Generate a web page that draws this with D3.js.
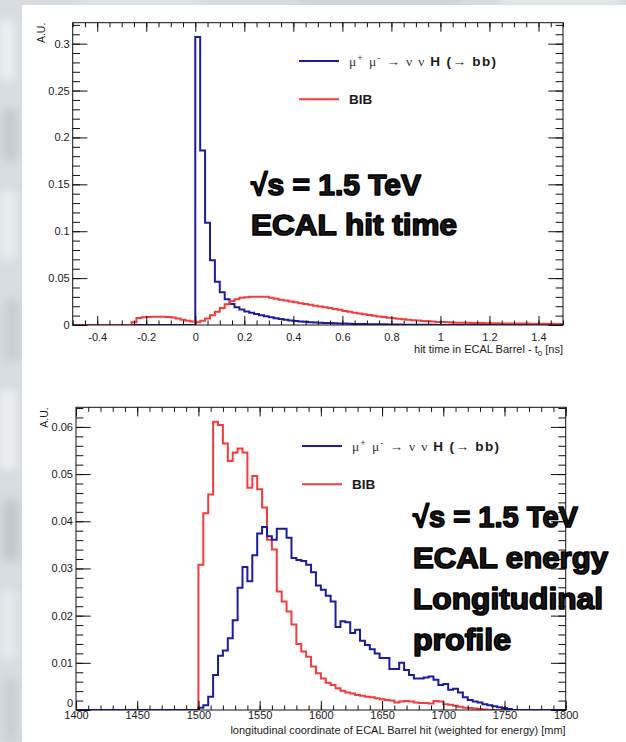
<!DOCTYPE html>
<html>
<head>
<meta charset="utf-8">
<script src="https://d3js.org/d3.v7.min.js"></script>
<style>
  body { margin: 0; background: #fff; }
  svg { display: block; }
  text { font-family: "Liberation Sans", Arial, Helvetica, sans-serif; fill: #1a1a1a; }
</style>
</head>
<body>
<script>
// ---- hit time in ECAL barrel (bins of 0.02 ns) ----
var timeBinWidth = 0.02;
var timeSignalStart = 0.0;
var timeSignal = [0.307, 0.186, 0.109, 0.069, 0.046, 0.035, 0.0275, 0.0225, 0.019, 0.0165,
  0.0145, 0.013, 0.0117, 0.0104, 0.0092, 0.0082, 0.0072, 0.0063, 0.0056, 0.0049,
  0.0043, 0.0038, 0.0034, 0.003, 0.0027, 0.0024, 0.0022, 0.002, 0.0018, 0.0016,
  0.0015, 0.0013, 0.0012, 0.0011, 0.001, 0.0009, 0.0008, 0.0007, 0.0007, 0.0006,
  0.0005, 0.0005, 0.0004, 0.0004, 0.0003, 0.0003, 0.0002, 0.0002, 0.0002, 0.0001, 0.0001];
var timeBibStart = -0.26;
var timeBib = [0.003, 0.0075, 0.0083, 0.0086, 0.0088, 0.0088, 0.0087, 0.0085, 0.0079, 0.0068, 0.0057, 0.0046, 0.0036,
  0.003, 0.0045, 0.007, 0.0105, 0.014, 0.018, 0.022, 0.0255, 0.0275, 0.029,
  0.0296, 0.030, 0.0302, 0.0302, 0.030, 0.029, 0.028, 0.027, 0.026, 0.025,
  0.0242, 0.0233, 0.0224, 0.0215, 0.0206, 0.0197, 0.0189, 0.018, 0.0171, 0.0162,
  0.015, 0.014, 0.0131, 0.0122, 0.0114, 0.0106, 0.0098, 0.0091, 0.0084, 0.0078,
  0.0072, 0.0066, 0.0061, 0.0056, 0.0051, 0.0047, 0.0043, 0.0039, 0.0036, 0.0033,
  0.0031, 0.0029, 0.0027, 0.0025, 0.0024, 0.0023, 0.0022, 0.0021, 0.002, 0.0019,
  0.0018, 0.0018, 0.0017, 0.0017, 0.0016, 0.0016, 0.0015, 0.0015, 0.0014, 0.0014,
  0.0013, 0.0013, 0.0013, 0.0012, 0.0012];
var timeDomain = [-0.5, 1.5];
var timeXMajor = [-0.4, -0.2, 0, 0.2, 0.4, 0.6, 0.8, 1, 1.2, 1.4];
var timeYMajor = [0, 0.05, 0.1, 0.15, 0.2, 0.25, 0.3];

// ---- longitudinal profile (bins of 4 mm) ----
var longBinWidth = 4;
var longSignalStart = 1500;
var longSignal = [0.0005, 0.001, 0.0028, 0.0074, 0.0115, 0.0126, 0.0152, 0.019, 0.0259, 0.0303,
  0.0273, 0.0328, 0.0374, 0.0388, 0.0368, 0.0361, 0.0384, 0.0384, 0.0365, 0.0322,
  0.0318, 0.0316, 0.0308, 0.0292, 0.0264, 0.0255, 0.0242, 0.023, 0.0176, 0.0188,
  0.0186, 0.0163, 0.017, 0.0147, 0.0138, 0.0129, 0.012, 0.011, 0.011, 0.0087,
  0.0087, 0.01, 0.0085, 0.0074, 0.0067, 0.0067, 0.0069, 0.0071, 0.0064, 0.0053,
  0.0055, 0.0043, 0.0045, 0.0037, 0.0027, 0.0021, 0.0018, 0.0016, 0.0012, 0.001,
  0.0008, 0.0006, 0.0004, 0.0002];
var longBibStart = 1500;
var longBib = [0.0308, 0.0417, 0.0457, 0.0611, 0.0604, 0.0565, 0.0528, 0.0546, 0.0554, 0.0546,
  0.0471, 0.0496, 0.0468, 0.0429, 0.0361, 0.034, 0.0251, 0.023, 0.0209, 0.0181,
  0.014, 0.0124, 0.0113, 0.0092, 0.0078, 0.0067, 0.0058, 0.0053, 0.0046, 0.0041,
  0.0037, 0.0035, 0.0032, 0.003, 0.0028, 0.0027, 0.0025, 0.0023, 0.0021, 0.002,
  0.0016, 0.0018, 0.0019, 0.0018, 0.0016, 0.0015, 0.0015, 0.0014, 0.0019, 0.0018,
  0.0012, 0.0011, 0.0009, 0.0007, 0.0005, 0.0004, 0.0003, 0.0002, 0.0001];
var longDomain = [1400, 1800];
var longXMajor = [1400, 1450, 1500, 1550, 1600, 1650, 1700, 1750, 1800];
var longYMajor = [0, 0.01, 0.02, 0.03, 0.04, 0.05, 0.06];

var blue = "#1c1ca0", red = "#f43c3c";

var width = 626, height = 742;
var svg = d3.select("body").append("svg")
  .attr("width", width)
  .attr("height", height);

// blurred backdrop behind the slide
var defs = svg.append("defs");
defs.append("filter").attr("id", "blur")
  .attr("x", "-50%").attr("y", "-50%").attr("width", "200%").attr("height", "200%")
  .append("feGaussianBlur").attr("stdDeviation", 5);
svg.append("rect").attr("width", width).attr("height", height).attr("fill", "#d6dce0");
var bg = svg.append("g").attr("filter", "url(#blur)");
[[0, 20, 14, 60, "#eef1f3"], [4, 110, 12, 50, "#bfc8ce"], [0, 190, 16, 70, "#e9edef"],
 [6, 300, 12, 60, "#c3ccd2"], [0, 390, 16, 80, "#edf0f2"], [4, 500, 14, 60, "#bcc6cc"],
 [0, 590, 16, 70, "#e6eaed"], [5, 680, 12, 60, "#c6ced3"], [80, -4, 120, 8, "#e4e8eb"],
 [300, -4, 160, 8, "#c9d1d6"], [500, -4, 120, 8, "#e8ecee"]].forEach(function(b) {
  bg.append("rect").attr("x", b[0]).attr("y", b[1]).attr("width", b[2]).attr("height", b[3]).attr("fill", b[4]);
});
svg.append("rect").attr("x", 22).attr("y", 5).attr("width", width - 22).attr("height", height - 5).attr("fill", "#fff");

function fmtNum(d) { return d === 0 ? "0" : String(+d.toFixed(3)); }

function minorTicks(majors, step, domain) {
  var out = [];
  var first = majors[0], s = step;
  for (var v = first; v >= domain[0] - 1e-9; v -= s) out.push(v);
  for (var w = first + s; w <= domain[1] + 1e-9; w += s) out.push(w);
  return out.map(function(v) { return +v.toFixed(6); });
}

function histPoints(start, binWidth, values, domain) {
  var pts = [[domain[0], 0]];
  values.forEach(function(v, i) { pts.push([start + i * binWidth, v]); });
  pts.push([start + values.length * binWidth, 0]);
  pts.push([domain[1], 0]);
  return pts;
}

function drawPanel(p) {
  var x = d3.scaleLinear().domain(p.xDomain).range([p.left, p.right]);
  var yMax = 1.05 * d3.max(p.series, function(s) { return d3.max(s.values); });
  var y = d3.scaleLinear().domain([0, yMax]).range([p.bottom, p.top]);
  var w = p.right - p.left, h = p.bottom - p.top;
  var xTick = 0.03 * h, yTick = 0.03 * w;

  var g = svg.append("g");
  defs.append("clipPath").attr("id", p.id)
    .append("rect").attr("x", p.left).attr("y", p.top - 2).attr("width", w).attr("height", h + 2);

  var line = d3.line()
    .x(function(d) { return x(d[0]); })
    .y(function(d) { return y(d[1]); })
    .curve(d3.curveStepAfter);

  p.series.forEach(function(s) {
    g.append("path")
      .attr("clip-path", "url(#" + p.id + ")")
      .attr("d", line(histPoints(s.start, p.binWidth, s.values, p.xDomain)))
      .attr("fill", "none")
      .attr("stroke", s.color)
      .attr("stroke-width", 2)
      .attr("stroke-linejoin", "miter");
  });

  var xMinor = minorTicks(p.xMajor, p.xMinorStep, p.xDomain);
  var yMinor = minorTicks(p.yMajor, p.yMinorStep, [0, yMax]);

  function styleAxis(sel) {
    sel.select(".domain").remove();
    sel.selectAll("line").attr("stroke", "#111").attr("stroke-width", 1);
    sel.selectAll("text").attr("font-size", 11).attr("fill", "#1a1a1a")
      .attr("font-family", "'Liberation Sans', Arial, sans-serif");
  }

  // bottom axis
  g.append("g").attr("transform", "translate(0," + p.bottom + ")")
    .call(d3.axisBottom(x).tickValues(xMinor).tickSize(-xTick / 2).tickFormat("")).call(styleAxis);
  g.append("g").attr("transform", "translate(0," + p.bottom + ")")
    .call(d3.axisBottom(x).tickValues(p.xMajor).tickSize(-xTick).tickPadding(p.xLabelPad).tickFormat(fmtNum)).call(styleAxis);
  // top mirror
  g.append("g").attr("transform", "translate(0," + p.top + ")")
    .call(d3.axisTop(x).tickValues(xMinor).tickSize(-xTick / 2).tickFormat("")).call(styleAxis);
  g.append("g").attr("transform", "translate(0," + p.top + ")")
    .call(d3.axisTop(x).tickValues(p.xMajor).tickSize(-xTick).tickFormat("")).call(styleAxis);
  // left axis
  g.append("g").attr("transform", "translate(" + p.left + ",0)")
    .call(d3.axisLeft(y).tickValues(yMinor).tickSize(-yTick / 2).tickFormat("")).call(styleAxis);
  var yAxisG = g.append("g").attr("transform", "translate(" + p.left + ",0)")
    .call(d3.axisLeft(y).tickValues(p.yMajor).tickSize(-yTick).tickPadding(3).tickFormat(fmtNum)).call(styleAxis);
  // the zero label sits just above the x labels, as ROOT does
  yAxisG.selectAll(".tick text").filter(function(d) { return d === 0; })
    .attr("dy", p.zeroDy);
  // right mirror
  g.append("g").attr("transform", "translate(" + p.right + ",0)")
    .call(d3.axisRight(y).tickValues(yMinor).tickSize(-yTick / 2).tickFormat("")).call(styleAxis);
  g.append("g").attr("transform", "translate(" + p.right + ",0)")
    .call(d3.axisRight(y).tickValues(p.yMajor).tickSize(-yTick).tickFormat("")).call(styleAxis);

  g.append("rect")
    .attr("x", p.left).attr("y", p.top).attr("width", w).attr("height", h)
    .attr("fill", "none").attr("stroke", "#111").attr("stroke-width", 1);

  // axis titles
  var xt = g.append("text")
    .attr("x", p.right).attr("y", p.bottom + p.xTitleGap)
    .attr("text-anchor", "end").attr("font-size", 11);
  p.xTitle(xt);

  g.append("text")
    .attr("transform", "translate(" + (p.left - 28) + "," + p.top + ") rotate(-90)")
    .attr("text-anchor", "end").attr("font-size", 10.5)
    .text("A.U.");

  // legend
  var leg = g.append("g");
  p.series.slice().reverse().forEach(function(s, i) {
    var ly = p.legendY + i * p.legendStep;
    leg.append("line")
      .attr("x1", p.legendX).attr("x2", p.legendX + 40)
      .attr("y1", ly).attr("y2", ly)
      .attr("stroke", s.color).attr("stroke-width", 2);
    var t = leg.append("text")
      .attr("x", p.legendX + 50).attr("y", ly + 5)
      .attr("font-size", 13.5);
    s.label(t);
  });

  // big annotation, heavy display face
  var ann = g.append("g");
  p.note.forEach(function(n, i) {
    ann.append("text")
      .attr("x", p.noteX).attr("y", p.noteY + i * p.noteStep)
      .attr("font-family", "Inter, Roboto, 'Liberation Sans', sans-serif")
      .attr("font-weight", 900)
      .attr("font-size", 30)
      .attr("fill", "#000")
      .attr("stroke", "#000")
      .attr("stroke-width", 1.6)
      .attr("stroke-linejoin", "round")
      .attr("textLength", n[1] - 2)
      .attr("lengthAdjust", "spacingAndGlyphs")
      .text(n[0]);
  });
}

function signalLabel(t) {
  var serif = "'Liberation Serif', 'DejaVu Serif', serif";
  t.attr("textLength", 147).attr("lengthAdjust", "spacing");
  t.append("tspan").attr("font-family", serif).attr("fill", "#333").text("\u03bc");
  t.append("tspan").attr("font-size", 8.5).attr("dy", -5.5).attr("fill", "#333").text("+");
  t.append("tspan").attr("dy", 5.5).text(" ");
  t.append("tspan").attr("font-family", serif).attr("fill", "#333").text("\u03bc");
  t.append("tspan").attr("font-size", 8.5).attr("dy", -5.5).attr("fill", "#333").text("-");
  t.append("tspan").attr("dy", 5.5).attr("font-family", serif).attr("fill", "#333")
    .text(" \u2192  \u03bd  \u03bd ");
  t.append("tspan").attr("font-weight", "bold").text("H (");
  t.append("tspan").attr("font-family", serif).attr("font-weight", "bold").text("\u2192");
  t.append("tspan").attr("font-weight", "bold").text(" bb)");
}
function bibLabel(t) { t.attr("font-weight", "bold").text("BIB"); }

drawPanel({
  id: "clipTime",
  left: 72.7, right: 563, top: 22.7, bottom: 325,
  xDomain: timeDomain, binWidth: timeBinWidth,
  xMajor: timeXMajor, xMinorStep: 0.05,
  yMajor: timeYMajor, yMinorStep: 0.01,
  series: [
    { color: blue, start: timeSignalStart, values: timeSignal, label: signalLabel },
    { color: red, start: timeBibStart, values: timeBib, label: bibLabel }
  ],
  xLabelPad: 8, xTitleGap: 28, zeroDy: "0.32em",
  xTitle: function(t) {
    t.append("tspan").text("hit time in ECAL Barrel - t");
    t.append("tspan").attr("font-size", 8).attr("dy", 3).text("0");
    t.append("tspan").attr("dy", -3).text(" [ns]");
  },
  legendX: 299, legendY: 99.3, legendStep: -38.3,
  noteX: 251, noteY: 195, noteStep: 40,
  note: [["\u221as = 1.5 TeV", 172], ["ECAL hit time", 208]]
});

drawPanel({
  id: "clipLong",
  left: 76, right: 565.7, top: 407.3, bottom: 710,
  xDomain: longDomain, binWidth: longBinWidth,
  xMajor: longXMajor, xMinorStep: 10,
  yMajor: longYMajor, yMinorStep: 0.002,
  series: [
    { color: red, start: longBibStart, values: longBib, label: bibLabel },
    { color: blue, start: longSignalStart, values: longSignal, label: signalLabel }
  ],
  xLabelPad: 1.5, xTitleGap: 24, zeroDy: "-0.32em",
  xTitle: function(t) {
    t.text("longitudinal coordinate of ECAL Barrel hit (weighted for energy) [mm]");
  },
  legendX: 302, legendY: 446, legendStep: 38.3,
  noteX: 413, noteY: 527, noteStep: 41,
  note: [["\u221as = 1.5 TeV", 167], ["ECAL energy", 197], ["Longitudinal", 192], ["profile", 100]]
});
</script>
</body>
</html>
